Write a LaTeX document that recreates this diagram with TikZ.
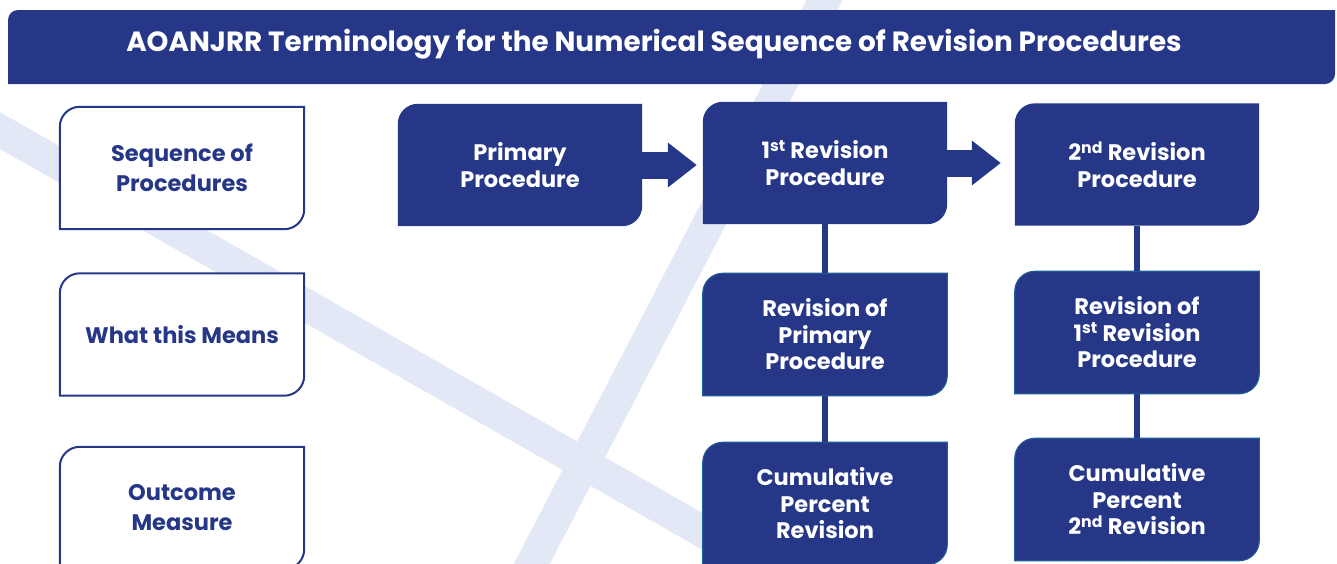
\documentclass[tikz,border=0pt]{standalone}
\usepackage{fontspec}
\setmainfont{Poppins}
\usetikzlibrary{arrows.meta,backgrounds}
\definecolor{navy}{HTML}{263788}
\definecolor{stripe}{HTML}{E3E8F6}
\definecolor{edge}{HTML}{1E5A96}
\tikzset{
    RA1/.style ={rectangle,minimum width = 244pt, minimum height = 122pt, inner sep=0pt, align=center, text=navy, font=\fontsize{22.5}{30}\selectfont\bfseries},
    RA2/.style ={RA1, text=white, font=\fontsize{22.5}{26.5}\selectfont\bfseries},
    TT/.style ={inner sep=0pt, text=white, font=\fontsize{27.8}{32}\selectfont\bfseries},
    FO/.style ={draw=navy, line width=2pt, fill=white},
    FF/.style ={fill=navy},
    FE/.style ={fill=navy, draw=edge, line width=1.2pt},
    AR/.style ={navy, line width=27pt, -{Triangle[length=29pt,width=43pt]}},
    LN/.style ={navy, line width=6pt},
    ST/.style ={stripe, line width=32pt}}

\begin{document}
\begin{tikzpicture}[x=1pt,y=-1pt]
        \useasboundingbox (0,0) rectangle (1337,563);
        \node[TT] (0) at(654,44){AOANJRR Terminology for the Numerical Sequence of Revision Procedures};
        \node[RA1] (1) at(182,168){Sequence of\\Procedures};
        \node[RA1] (2) at(182,334.5){What this Means};
        \node[RA1] (3) at(182,508){Outcome\\Measure};
        \node[RA2] (4) at(520,165){Primary\\Procedure};
        \node[RA2] (5) at(825,163){1\textsuperscript{st} Revision\\Procedure};
        \node[RA2] (6) at(1137,164.5){2\textsuperscript{nd} Revision\\Procedure};
        \node[RA2] (7) at(825,334.5){Revision of\\Primary\\Procedure};
        \node[RA2] (8) at(1137,332.5){Revision of\\1\textsuperscript{st} Revision\\Procedure};
        \node[RA2] (9) at(825,503.5){Cumulative\\Percent\\Revision};
        \node[RA2] (10) at(1137,499.5){Cumulative\\Percent\\2\textsuperscript{nd} Revision};
        \begin{scope}[on background layer]
            \begin{scope}
                \clip (0,0) rectangle (1337,563);
                \draw[ST] (-50,102) -- (800,587);
                \draw[ST] (513,600) -- (835,-20);
            \end{scope}
            \path[FF] (8,20) arc[start angle=180,end angle=90,radius=10pt] -- (1335,10) -- (1335,74) arc[start angle=0,end angle=-90,radius=10pt] -- (8,84) -- cycle;
            \foreach \n/\s in {1/FO,2/FO,3/FO,4/FF,5/FF,6/FF,7/FE,8/FE,9/FE,10/FE}
                \path[\s] ([yshift=-20pt]\n.north west) arc[start angle=180,end angle=90,radius=20pt] -- (\n.north east) -- ([yshift=20pt]\n.south east) arc[start angle=0,end angle=-90,radius=20pt] -- (\n.south west) -- cycle;
            \draw[AR] (4.east) -- ([xshift=-6pt]4.east -| 5.west);
            \draw[AR] (5.east) -- ([xshift=-14pt]5.east -| 6.west);
            \draw[LN] (5) -- (7);
            \draw[LN] (7) -- (9);
            \draw[LN] (6) -- (8);
            \draw[LN] (8) -- (10);
        \end{scope}
    \end{tikzpicture}
\end{document}
